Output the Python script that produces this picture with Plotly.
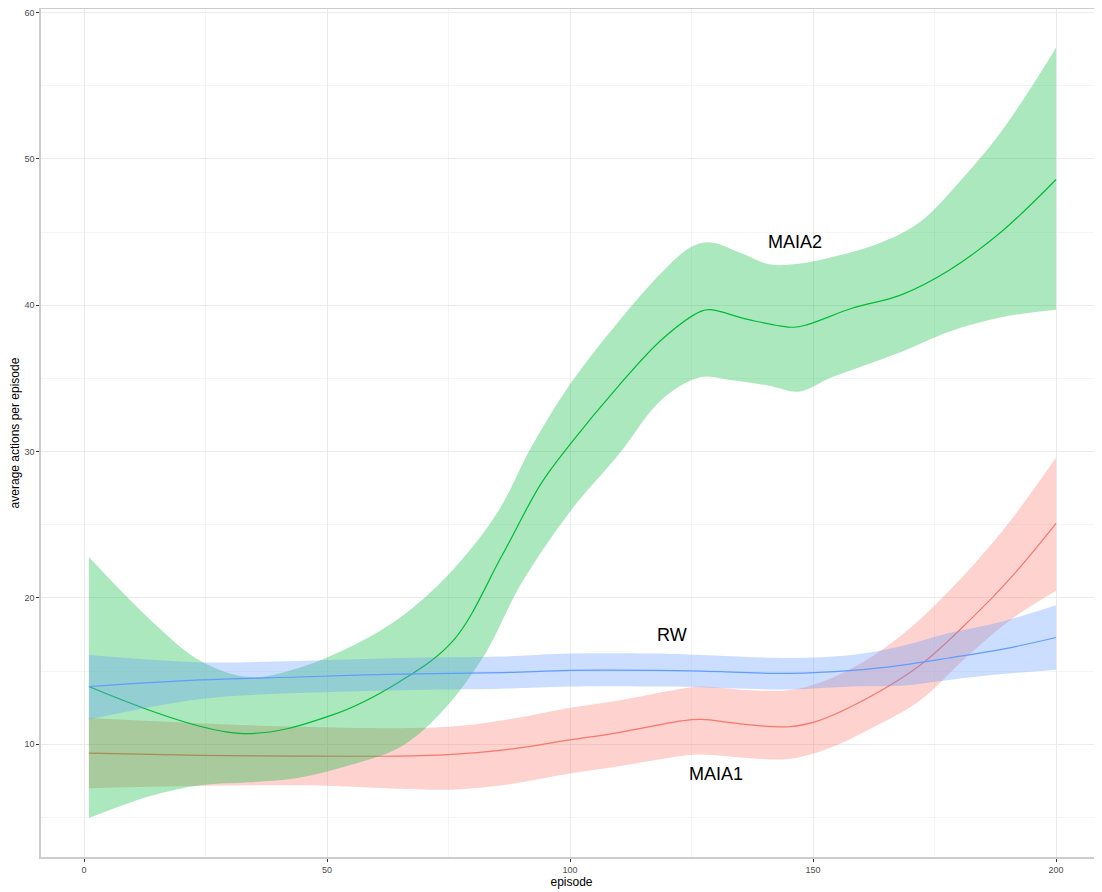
import plotly.graph_objects as go

# MAIA1 (red)
x_maia1 = [1, 24, 44, 65, 75, 86, 100, 110, 123, 127, 135, 145, 151, 162, 172, 182, 191, 200]
m_maia1 = [9.4, 9.25, 9.2, 9.2, 9.3, 9.6, 10.3, 10.8, 11.6, 11.7, 11.4, 11.2, 11.6, 13.3, 15.4, 18.4, 21.5, 25.1]
xb_maia1 = [1, 44, 75, 89, 100, 110, 123, 127, 137, 147, 158, 168, 178, 189, 200]
u_maia1 = [11.8, 11.2, 11.2, 11.8, 12.5, 13.0, 13.8, 13.95, 13.7, 13.8, 15.2, 17.4, 20.5, 24.6, 29.6]
xl_maia1 = [1, 44, 75, 86, 100, 110, 123, 127, 137, 145, 153, 162, 172, 182, 191, 200]
l_maia1 = [7.0, 7.2, 6.9, 7.2, 8.0, 8.5, 9.2, 9.3, 9.05, 9.0, 9.7, 11.1, 13.0, 16.1, 18.6, 20.5]

# MAIA2 (green)
x_maia2 = [1, 32, 51, 65, 76, 86, 94, 100, 110, 119, 127, 129, 137, 146, 149, 158, 168, 178, 189, 200]
m_maia2 = [13.95, 10.75, 12.0, 14.3, 17.1, 22.9, 27.8, 30.5, 34.5, 37.7, 39.6, 39.7, 39.0, 38.5, 38.7, 39.8, 40.7, 42.4, 45.1, 48.6]
xu_maia2 = [1, 14, 24, 34, 44, 55, 65, 75, 85, 92, 100, 110, 119, 125, 129, 135, 141, 146, 154, 164, 172, 180, 189, 200]
u_maia2 = [22.8, 18.4, 15.7, 14.6, 15.2, 16.7, 18.65, 21.6, 25.8, 30.3, 34.6, 38.9, 42.3, 44.0, 44.3, 43.6, 42.8, 42.8, 43.3, 44.3, 45.7, 48.4, 52.0, 57.6]
xl_maia2 = [1, 14, 24, 34, 44, 55, 65, 73, 82, 90, 100, 110, 119, 127, 133, 141, 147, 154, 168, 178, 189, 200]
l_maia2 = [4.96, 6.5, 7.2, 7.4, 7.7, 8.6, 9.8, 12.0, 15.9, 21.0, 25.9, 29.8, 33.6, 35.1, 34.9, 34.5, 34.1, 35.1, 36.8, 38.2, 39.2, 39.7]

# RW (blue)
x_rw = [1, 24, 44, 65, 86, 100, 117, 127, 145, 158, 168, 178, 189, 200]
m_rw = [13.95, 14.4, 14.6, 14.8, 14.9, 15.05, 15.05, 15.0, 14.85, 15.05, 15.4, 15.9, 16.5, 17.3]
u_rw = [16.1, 15.6, 15.7, 15.9, 16.0, 16.2, 16.2, 16.1, 15.9, 16.1, 16.7, 17.6, 18.4, 19.5]
l_rw = [11.7, 13.1, 13.5, 13.7, 13.8, 13.95, 13.95, 13.9, 13.75, 13.95, 14.0, 14.4, 14.8, 15.1]

labels = ["MAIA1", "MAIA2", "RW"]
label_x = [130, 146.3, 121]
label_y = [7.95, 44.3, 17.5]

colors = {"MAIA1": "248,118,109", "MAIA2": "0,186,56", "RW": "97,156,255"}

series = [
    ("MAIA1", x_maia1, m_maia1, xb_maia1, u_maia1, xl_maia1, l_maia1),
    ("MAIA2", x_maia2, m_maia2, xu_maia2, u_maia2, xl_maia2, l_maia2),
    ("RW", x_rw, m_rw, x_rw, u_rw, x_rw, l_rw),
]

fig = go.Figure()
for name, xm, ym, xu, yu, xl, yl in series:
    c = colors[name]
    fig.add_trace(go.Scatter(
        x=xl, y=yl, mode="lines", line=dict(width=0, shape="spline", smoothing=1.0),
        hoverinfo="skip", showlegend=False))
    fig.add_trace(go.Scatter(
        x=xu, y=yu, mode="lines", line=dict(width=0, shape="spline", smoothing=1.0),
        fill="tonexty", fillcolor=f"rgba({c},0.33)", hoverinfo="skip", showlegend=False))
    fig.add_trace(go.Scatter(
        x=xm, y=ym, mode="lines", line=dict(color=f"rgb({c})", width=1.2, shape="spline", smoothing=1.0),
        name=name, showlegend=False))

for t, lx, ly in zip(labels, label_x, label_y):
    fig.add_annotation(x=lx, y=ly, text=t, showarrow=False,
                       font=dict(size=18, color="black", family="Liberation Sans, Arial"))

axis_common = dict(showline=True, linecolor="#cccccc", linewidth=1.5, mirror=True,
                   showgrid=True, gridcolor="#ebebeb", gridwidth=1, zeroline=False,
                   ticks="outside", ticklen=3, tickcolor="#333333", automargin=False,
                   ticklabeloverflow="allow",
                   tickfont=dict(size=9, color="#4d4d4d", family="Liberation Sans, Arial"),
                   minor=dict(showgrid=True, gridcolor="#f5f5f5", gridwidth=1))

fig.update_xaxes(range=[-8.85, 209.45], tickvals=[0, 50, 100, 150, 200],
                 minor_tickvals=[25, 75, 125, 175],
                 title=dict(text="episode", font=dict(size=12, color="black", family="Liberation Sans, Arial"), standoff=0),
                 **axis_common)
fig.update_yaxes(range=[2.3, 60.25], tickvals=[10, 20, 30, 40, 50, 60],
                 minor_tickvals=[5, 15, 25, 35, 45, 55],
                 title=dict(text="average actions per episode", font=dict(size=12, color="black", family="Liberation Sans, Arial"), standoff=4),
                 **axis_common)

# page body adds an 8px offset, so the figure is sized to the visible area
fig.update_layout(width=1094, height=884, margin=dict(l=33, r=0, t=1, b=35),
                  plot_bgcolor="white", paper_bgcolor="white", showlegend=False)

fig.write_html("out.html")
